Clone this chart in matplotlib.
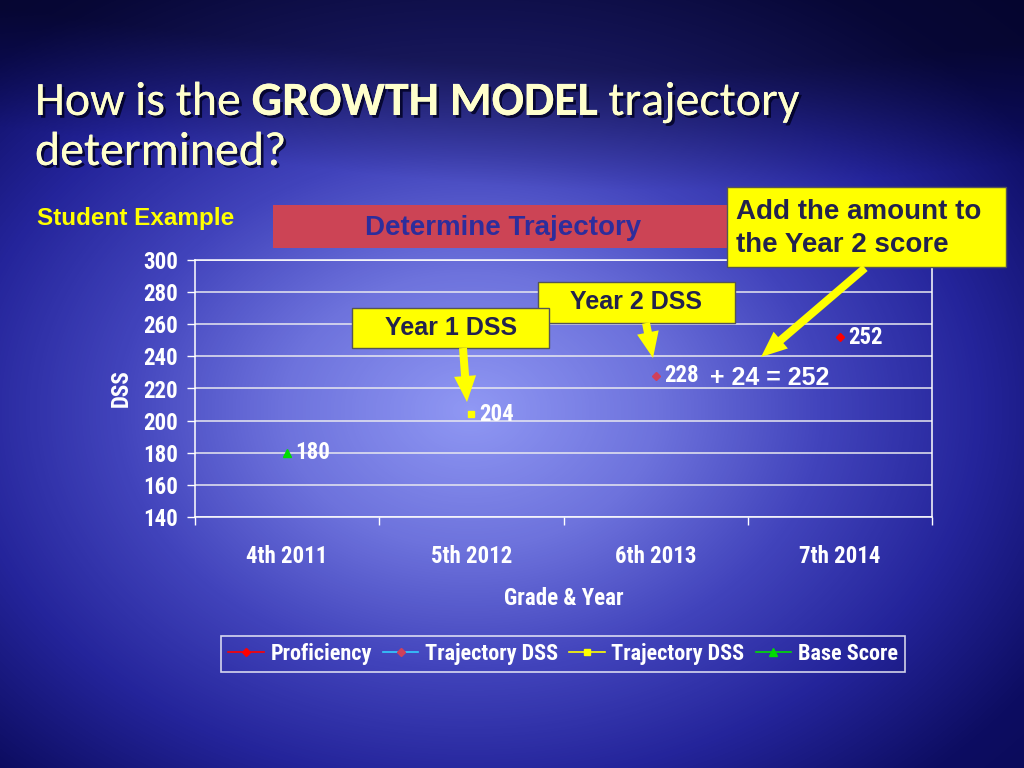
import numpy as np
import matplotlib
matplotlib.use('Agg')
import matplotlib.pyplot as plt
import matplotlib.patches as mpatches
from matplotlib.colors import LinearSegmentedColormap
import matplotlib.patheffects as pe

# chart data
categories = ['4th 2011', '5th 2012', '6th 2013', '7th 2014']
proficiency = [np.nan, np.nan, np.nan, 252]
trajectory_y2 = [np.nan, np.nan, 228, np.nan]
trajectory_y1 = [np.nan, 204, np.nan, np.nan]
base_score = [180, np.nan, np.nan, np.nan]
y_ticks = [140, 160, 180, 200, 220, 240, 260, 280, 300]

narrow = ['Roboto Condensed', 'PT Sans Narrow', 'Liberation Sans', 'DejaVu Sans']
arial = ['Liberation Sans', 'DejaVu Sans']
calibri = ['Carlito', 'Lato', 'DejaVu Sans']

W, H = 1024, 768
fig = plt.figure(figsize=(W / 100, H / 100), dpi=100)

# slide background, a soft radial glow on dark navy
bg = fig.add_axes([0, 0, 1, 1], zorder=0)
yy, xx = np.mgrid[0:H, 0:W]
d = np.sqrt(((xx - 470) / 640.0) ** 2 + ((yy - 410) / 470.0) ** 2)
cmap = LinearSegmentedColormap.from_list('slide', [
    (0.0, '#9098f4'), (0.21, '#6d72dc'), (0.39, '#4244bc'),
    (0.57, '#24249a'), (0.75, '#0d0d62'), (1.0, '#07074a')])
img = cmap(np.clip(d / 1.4, 0, 1))[:, :, :3]
# darker band above the wave at the top
wave = 150 + 40 * np.sin((xx / W) * np.pi * 1.1 - 0.6)
top = np.clip((wave - yy) / 120.0, 0, 1)[:, :, None]
img = img * (1 - 0.45 * top)
bg.imshow(img, extent=[0, W, H, 0], aspect='auto')
bg.set_xlim(0, W)
bg.set_ylim(H, 0)
bg.axis('off')

# chart
ax = fig.add_axes([195 / W, 1 - 517 / H, 737 / W, 257 / H], zorder=2)
ax.set_facecolor('none')
x = np.arange(len(categories))
ax.plot(x, proficiency, color='red', marker='D', ms=4, lw=1.2, label='Proficiency')
ax.plot(x, trajectory_y2, color='#33ccff', marker='D', mfc='#d0405a', mec='#d0405a', ms=4, lw=1.2,
        label='Trajectory DSS')
ax.plot(x, trajectory_y1, color='yellow', marker='s', ms=5, lw=1.2, label='Trajectory DSS')
ax.plot(x, base_score, color='#00dd00', marker='^', ms=6, lw=1.2, label='Base Score')

fs = 16.5
for series in (proficiency, trajectory_y2, trajectory_y1, base_score):
    for xi, v in zip(x, series):
        if not np.isnan(v):
            ax.annotate(str(v), (xi, v), xytext=(6, 0), textcoords='offset points',
                        ha='left', va='center', color='white', fontsize=fs,
                        fontweight='bold', family=narrow)

ax.set_xlim(-0.5, len(categories) - 0.5)
ax.set_ylim(140, 300)
ax.set_yticks(y_ticks)
ax.yaxis.grid(True, color='#e8e8f0', lw=1.1)
ax.set_axisbelow(True)
ax.set_xticks(x)
ax.set_xticklabels(categories)
ax.set_xticks(np.arange(-0.5, len(categories)), minor=True)
ax.tick_params(axis='x', which='major', length=0, pad=20, colors='white', labelsize=fs)
ax.tick_params(axis='x', which='minor', length=6, width=1, color='white')
ax.tick_params(axis='y', length=6, width=1, pad=6, colors='white', labelsize=fs)
for lab in ax.get_xticklabels() + ax.get_yticklabels():
    lab.set_family(narrow)
    lab.set_fontweight('bold')
for s in ax.spines.values():
    s.set_color('white')
    s.set_linewidth(1.1)
ax.set_ylabel('DSS', color='white', fontsize=fs, fontweight='bold', family=narrow, labelpad=8)
ax.set_xlabel('Grade & Year', color='white', fontsize=fs, fontweight='bold', family=narrow, labelpad=14)

leg = fig.legend(handles=ax.get_lines(), loc='center', bbox_to_anchor=(563 / W, 1 - 654 / H),
                 ncol=4, frameon=True, fancybox=False, handlelength=1.6, handletextpad=0.3,
                 columnspacing=0.5, borderpad=0.3,
                 prop={'family': narrow, 'weight': 'bold', 'size': 16})
leg.get_frame().set_facecolor('none')
leg.get_frame().set_edgecolor('white')
leg.get_frame().set_linewidth(1.2)
for t in leg.get_texts():
    t.set_color('white')

# overlay in pixel units for the slide annotations
ov = fig.add_axes([0, 0, 1, 1], zorder=3)
ov.set_xlim(0, W)
ov.set_ylim(H, 0)
ov.axis('off')
ov.patch.set_visible(False)

ov.add_patch(mpatches.Rectangle((273, 205), 454, 43, facecolor='#cc4455', edgecolor='none'))
ov.text(503, 228, 'Determine Trajectory', ha='center', va='center', color='#2d2d9c',
        fontsize=20, fontweight='bold', family=arial)

navy = '#22224e'
ov.add_patch(mpatches.Rectangle((727, 187), 279, 80, facecolor='#ffff00', edgecolor='#555555', lw=1))
ov.text(736, 212, 'Add the amount to', ha='left', va='center', color=navy, fontsize=20,
        fontweight='bold', family=arial)
ov.text(736, 245, 'the Year 2 score', ha='left', va='center', color=navy, fontsize=20,
        fontweight='bold', family=arial)

ov.add_patch(mpatches.Rectangle((538, 282), 197, 41, facecolor='#ffff00', edgecolor='#555555', lw=1))
ov.text(636, 302, 'Year 2 DSS', ha='center', va='center', color=navy, fontsize=18,
        fontweight='bold', family=arial)
ov.add_patch(mpatches.Rectangle((352, 308), 197, 40, facecolor='#ffff00', edgecolor='#555555', lw=1))
ov.text(451, 328, 'Year 1 DSS', ha='center', va='center', color=navy, fontsize=18,
        fontweight='bold', family=arial)

arrow_kw = dict(width=8, head_width=22, head_length=26, length_includes_head=True,
                facecolor='#ffff00', edgecolor='none')
ov.add_patch(mpatches.FancyArrow(463, 348, 4, 54, **arrow_kw))
ov.add_patch(mpatches.FancyArrow(646, 323, 7, 35, **arrow_kw))
ov.add_patch(mpatches.FancyArrow(865, 268, -104, 89, **arrow_kw))

ov.text(710, 378, '+ 24 = 252', ha='left', va='center', color='white', fontsize=18,
        fontweight='bold', family=arial)

ov.text(37, 218, 'Student Example', ha='left', va='center', color='#ffff00', fontsize=17.5,
        fontweight='bold', family=arial)

# title, with GROWTH MODEL in bold
shadow = [pe.withSimplePatchShadow(offset=(2, -2), shadow_rgbFace='#000020', alpha=0.8), pe.Normal()]
tcol = '#ffffcc'
tsize = 34.5
fig.canvas.draw()
t1 = fig.text(35 / W, 1 - 115 / H, 'How is the ', color=tcol, fontsize=tsize, family=calibri,
              va='baseline', path_effects=shadow, zorder=4)
fig.canvas.draw()
x1 = t1.get_window_extent().x1
t2 = fig.text(x1 / W, 1 - 115 / H, 'GROWTH MODEL', color=tcol, fontsize=tsize, family=calibri,
              fontweight='bold', va='baseline', path_effects=shadow, zorder=4)
fig.canvas.draw()
x2 = t2.get_window_extent().x1
fig.text(x2 / W, 1 - 115 / H, ' trajectory', color=tcol, fontsize=tsize, family=calibri,
         va='baseline', path_effects=shadow, zorder=4)
fig.text(35 / W, 1 - 165 / H, 'determined?', color=tcol, fontsize=tsize, family=calibri,
         va='baseline', path_effects=shadow, zorder=4)

fig.savefig('out.png', dpi=100)
